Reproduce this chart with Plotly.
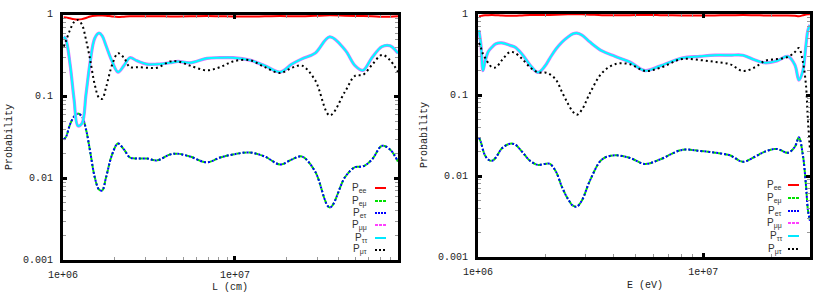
import math
import plotly.graph_objects as go

# ---------------- data: left panel (vs L in cm) ----------------
L_cm = [1.01e6, 1.04e6, 1.10e6, 1.16e6, 1.22e6, 1.29e6, 1.36e6, 1.44e6, 1.53e6, 1.62e6,
        1.69e6, 1.78e6, 1.93e6, 2.09e6, 2.26e6, 2.45e6, 2.69e6, 3.08e6, 3.52e6, 4.19e6,
        4.66e6, 5.47e6, 6.87e6, 8.18e6, 9.73e6, 1.22e7, 1.49e7, 1.83e7, 2.14e7, 2.45e7,
        2.92e7, 3.56e7, 4.36e7, 4.99e7, 5.55e7, 6.26e7, 7.16e7, 7.97e7, 8.87e7]
L_Pee = [0.94, 0.935, 0.91, 0.89, 0.88, 0.89, 0.92, 0.96, 0.98, 0.985,
         0.986, 0.98, 0.96, 0.947, 0.955, 0.964, 0.965, 0.965, 0.967, 0.96,
         0.96, 0.963, 0.969, 0.964, 0.96, 0.958, 0.963, 0.97, 0.966, 0.963,
         0.976, 0.991, 0.98, 0.973, 0.972, 0.966, 0.95, 0.955, 0.968]
L_Pemu = [0.030, 0.032, 0.046, 0.057, 0.062, 0.057, 0.040, 0.021, 0.0103, 0.0073,
          0.0071, 0.0103, 0.0196, 0.0267, 0.0226, 0.018, 0.0175, 0.0175, 0.0166, 0.0196,
          0.020, 0.0185, 0.0157, 0.018, 0.0196, 0.0207, 0.0185, 0.0148, 0.0170, 0.0185,
          0.0122, 0.0044, 0.0103, 0.0137, 0.014, 0.017, 0.025, 0.0226, 0.016]
L_Petau = list(L_Pemu)
L_Pmumu = [0.54, 0.50, 0.246, 0.092, 0.044, 0.047, 0.106, 0.27, 0.52, 0.60,
           0.555, 0.42, 0.27, 0.20, 0.24, 0.30, 0.275, 0.25, 0.25, 0.26,
           0.27, 0.26, 0.295, 0.30, 0.30, 0.28, 0.24, 0.20, 0.25, 0.29,
           0.34, 0.54, 0.375, 0.24, 0.21, 0.30, 0.41, 0.42, 0.34]
L_Ptautau = list(L_Pmumu)
L_Pmutau = [0.41, 0.48, 0.66, 0.82, 0.87, 0.76, 0.50, 0.28, 0.14, 0.097,
            0.094, 0.13, 0.245, 0.34, 0.30, 0.23, 0.23, 0.226, 0.226, 0.27,
            0.27, 0.24, 0.21, 0.23, 0.27, 0.28, 0.23, 0.195, 0.226, 0.24,
            0.16, 0.059, 0.115, 0.18, 0.185, 0.245, 0.325, 0.28, 0.20]

# ---------------- data: right panel (vs E in eV) ----------------
E_eV = [1.010e6, 1.031e6, 1.052e6, 1.074e6, 1.108e6, 1.154e6, 1.202e6, 1.278e6, 1.387e6, 1.460e6,
        1.568e6, 1.702e6, 1.847e6, 1.984e6, 2.087e6, 2.220e6, 2.360e6, 2.509e6, 2.641e6, 2.750e6,
        2.894e6, 3.142e6, 3.551e6, 4.056e6, 4.728e6, 5.512e6, 6.424e6, 8.044e6, 9.670e6, 1.127e7,
        1.314e7, 1.500e7, 1.696e7, 1.878e7, 2.124e7, 2.377e7, 2.553e7, 2.658e7, 2.770e7, 2.857e7,
        2.916e7, 2.977e7]
E_Pee = [0.94, 0.948, 0.958, 0.964, 0.968, 0.97, 0.966, 0.956, 0.95, 0.951,
         0.96, 0.97, 0.973, 0.972, 0.972, 0.977, 0.985, 0.99, 0.991, 0.992,
         0.99, 0.982, 0.968, 0.964, 0.967, 0.972, 0.968, 0.958, 0.959, 0.961,
         0.964, 0.97, 0.965, 0.96, 0.957, 0.961, 0.954, 0.94, 0.964, 0.984,
         0.992, 0.994]
E_Pemu = [0.030, 0.026, 0.021, 0.018, 0.016, 0.0154, 0.017, 0.022, 0.025, 0.0245,
          0.020, 0.0154, 0.0137, 0.0141, 0.0141, 0.0113, 0.0073, 0.0052, 0.0043, 0.0042,
          0.005, 0.0088, 0.016, 0.018, 0.0167, 0.0141, 0.016, 0.021, 0.0204, 0.0194,
          0.018, 0.015, 0.0173, 0.020, 0.0216, 0.0194, 0.023, 0.030, 0.018, 0.0078,
          0.0038, 0.0028]
E_Petau = list(E_Pemu)
E_Pmumu = [0.63, 0.41, 0.20, 0.255, 0.34, 0.39, 0.43, 0.44, 0.41, 0.39,
           0.32, 0.235, 0.19, 0.228, 0.286, 0.37, 0.45, 0.52, 0.57, 0.58,
           0.55, 0.45, 0.35, 0.30, 0.255, 0.20, 0.228, 0.286, 0.30, 0.31,
           0.31, 0.31, 0.27, 0.25, 0.264, 0.30, 0.235, 0.153, 0.20, 0.41,
           0.63, 0.73]
E_Ptautau = list(E_Pmumu)
E_Pmutau = [0.44, 0.38, 0.32, 0.29, 0.25, 0.22, 0.22, 0.27, 0.34, 0.33,
            0.28, 0.22, 0.19, 0.19, 0.18, 0.154, 0.109, 0.078, 0.062, 0.057,
            0.066, 0.106, 0.187, 0.24, 0.24, 0.198, 0.216, 0.278, 0.27, 0.256,
            0.24, 0.198, 0.22, 0.264, 0.278, 0.295, 0.34, 0.38, 0.256, 0.134,
            0.049, 0.021]

legend_labels = ["P<sub>ee</sub>", "P<sub>eμ</sub>", "P<sub>eτ</sub>",
                 "P<sub>μμ</sub>", "P<sub>ττ</sub>", "P<sub>μτ</sub>"]
x_tick_vals = [1e6, 1e7]
x_tick_text = ["1e+06", "1e+07"]
y_tick_vals = [1, 0.1, 0.01, 0.001]
y_tick_text = ["1", "0.1", "0.01", "0.001"]

# ---------------- styles ----------------
styles = [
    dict(color="#ff0000", width=2, dash="solid"),
    dict(color="#00e000", width=2, dash="4px,2px"),
    dict(color="#0000ff", width=2, dash="2px,2px"),
    dict(color="#e070ff", width=3.2, dash="solid"),
    dict(color="#00ffff", width=2, dash="solid"),
    dict(color="#000000", width=2, dash="2px,3px"),
]
legend_styles = [
    dict(color="#ff0000", width=2, dash="solid"),
    dict(color="#00e000", width=2, dash="3px,1px"),
    dict(color="#0000ff", width=2, dash="2px,1px"),
    dict(color="#ff40ff", width=2, dash="3px,1px"),
    dict(color="#00e8ff", width=2, dash="solid"),
    dict(color="#000000", width=2, dash="2px,2px"),
]

W, H = 830, 294
fig = go.Figure()

panels = [
    (L_cm, [L_Pee, L_Pemu, L_Petau, L_Pmumu, L_Ptautau, L_Pmutau], "x", "y"),
    (E_eV, [E_Pee, E_Pemu, E_Petau, E_Pmumu, E_Ptautau, E_Pmutau], "x2", "y2"),
]
for xs, series, xa, ya in panels:
    for lab, ys, st in zip(legend_labels, series, styles):
        fig.add_trace(go.Scatter(x=xs, y=ys, mode="lines", name=lab,
                                 line=dict(shape="spline", smoothing=1.0, **st),
                                 xaxis=xa, yaxis=ya, showlegend=False,
                                 hoverinfo="skip"))

mono = dict(family="Liberation Mono, Courier New, monospace", size=10, color="#222")

def xaxis_cfg(dom, rng, anchor):
    return dict(domain=dom, type="log", range=rng, tickvals=x_tick_vals, ticktext=x_tick_text,
                ticks="inside", ticklen=4, tickwidth=3, tickcolor="#000",
                minor=dict(ticks="inside", ticklen=3, tickwidth=1, tickcolor="#999", dtick="D1"),
                showline=True, linewidth=3, linecolor="#000", mirror="ticks",
                showgrid=False, zeroline=False, tickfont=mono, ticklabelstandoff=3,
                automargin=False, anchor=anchor)

def yaxis_cfg(dom, anchor):
    return dict(domain=dom, type="log", range=[-3, 0], tickvals=y_tick_vals,
                showticklabels=False,
                ticks="inside", ticklen=4, tickwidth=3, tickcolor="#000",
                minor=dict(ticks="inside", ticklen=3, tickwidth=1, tickcolor="#999", dtick="D1"),
                showline=True, linewidth=3, linecolor="#000", mirror="ticks",
                showgrid=False, zeroline=False, anchor=anchor, automargin=False)

fig.update_layout(
    width=W, height=H, margin=dict(l=0, r=0, t=0, b=0, pad=0), autosize=False,
    paper_bgcolor="white", plot_bgcolor="white", showlegend=False,
    xaxis=xaxis_cfg([63 / W, 398 / W], [6, 7.948], "y"),
    yaxis=yaxis_cfg([1 - 260 / H, 1 - 15 / H], "x"),
    xaxis2=xaxis_cfg([478 / W, 810 / W], [6, 7.474], "y2"),
    yaxis2=yaxis_cfg([1 - 257 / H, 1 - 14 / H], "x2"),
)

# y tick labels placed through the y axes' own scale (log axes use log10 units)
for yref, label_right in (("y", 55), ("y2", 470)):
    for v, t in zip(y_tick_vals, y_tick_text):
        fig.add_annotation(xref="paper", yref=yref, x=label_right / W, y=math.log10(v),
                           text=t, showarrow=False, xanchor="right", yanchor="middle",
                           font=mono)

annotations = [
    dict(x=230 / W, y=1 - 287 / H, text="L (cm)"),
    dict(x=645 / W, y=1 - 285 / H, text="E (eV)"),
    dict(x=9 / W, y=1 - 137 / H, text="Probability", textangle=-90),
    dict(x=424 / W, y=1 - 135 / H, text="Probability", textangle=-90),
]
for a in annotations:
    fig.add_annotation(xref="paper", yref="paper", showarrow=False, font=mono,
                       xanchor="center", yanchor="middle", **a)

# manual legends (text on the left, line sample on the right, like gnuplot)
leg_boxes = [
    dict(tx=369, lx0=375, lx1=386, ys=[188, 201, 213, 225, 238, 250]),
    dict(tx=784, lx0=788, lx1=799, ys=[185, 198, 211, 223, 236, 249]),
]
for box in leg_boxes:
    for lab, st, py in zip(legend_labels, legend_styles, box["ys"]):
        fig.add_annotation(xref="paper", yref="paper", x=box["tx"] / W, y=1 - py / H,
                           text=lab, showarrow=False, xanchor="right", yanchor="middle",
                           font=dict(family="Liberation Sans, Arial, sans-serif", size=10, color="#333"))
        fig.add_shape(type="line", xref="paper", yref="paper",
                      x0=box["lx0"] / W, x1=box["lx1"] / W, y0=1 - py / H, y1=1 - py / H,
                      line=st)

fig.write_html("out.html", config={"displayModeBar": False, "staticPlot": True},
               post_script="document.body.style.margin='0';document.body.style.overflow='hidden';")
